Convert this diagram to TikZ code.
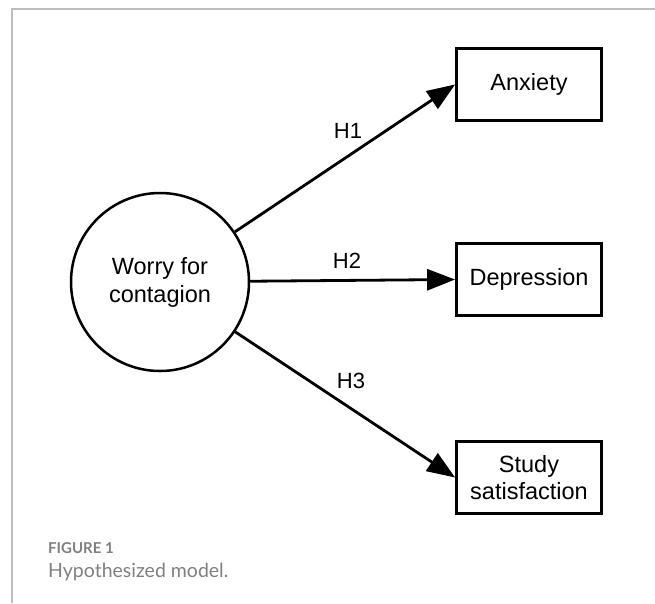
\documentclass[tikz,border=0pt]{standalone}
\usepackage{fontspec}
\setmainfont{Liberation Sans}
\newfontfamily\capfont{Lato}
\usetikzlibrary{arrows.meta}
\definecolor{framegray}{HTML}{BDBDBD}
\definecolor{capgray}{HTML}{808080}
\begin{document}
\begin{tikzpicture}[x=1pt,y=-1pt,
  box/.style={draw, line width=2.8pt, minimum width=145pt, minimum height=72pt, align=center,
    font=\fontsize{23.5}{27}\selectfont, inner sep=0pt},
  latent/.style={draw, circle, line width=2.5pt, minimum size=178pt, align=center,
    font=\fontsize{23.5}{28}\selectfont, inner sep=0pt},
  hpath/.style={line width=2.8pt, -{Triangle[length=28pt,width=21pt]}},
  hlab/.style={font=\fontsize{22}{26}\selectfont, inner sep=0pt},
  framel/.style={draw=framegray, line width=1.6pt},
  capsmall/.style={anchor=base west, inner sep=0pt, text=capgray, font=\capfont\bfseries\fontsize{15}{17}\selectfont},
  capbig/.style={anchor=base west, inner sep=0pt, text=capgray, font=\capfont\fontsize{19.5}{22}\selectfont}]
\useasboundingbox (0,0) rectangle (655,603);
\fill[white] (0,0) rectangle (655,603);
% frame
\coordinate (fbl) at (12,603);
\coordinate (ftl) at (12,9);
\coordinate (ftr) at (655,9);
\draw[framel] (fbl) -- (ftl) -- (ftr);
% nodes
\node[latent] (w) at (160,282) {Worry for\\contagion};
\node[box] (a) at (529,84.5) {Anxiety};
\node[box] (d) at (529,279.5) {Depression};
\node[box] (s) at (529,477.5) {Study\\satisfaction};
% paths
\draw[hpath] (w) -- (a.west);
\draw[hpath] (w) -- (d.west);
\draw[hpath] (w) -- (s.west);
% labels
\node[hlab] (h1) at (348,131) {H1};
\node[hlab] (h2) at (347,261) {H2};
\node[hlab] (h3) at (351,381) {H3};
% caption
\node[capsmall] (fig) at (48,553) {FIGURE 1};
\node[capbig] (cap) at (48,577) {Hypothesized model.};
\end{tikzpicture}
\end{document}
